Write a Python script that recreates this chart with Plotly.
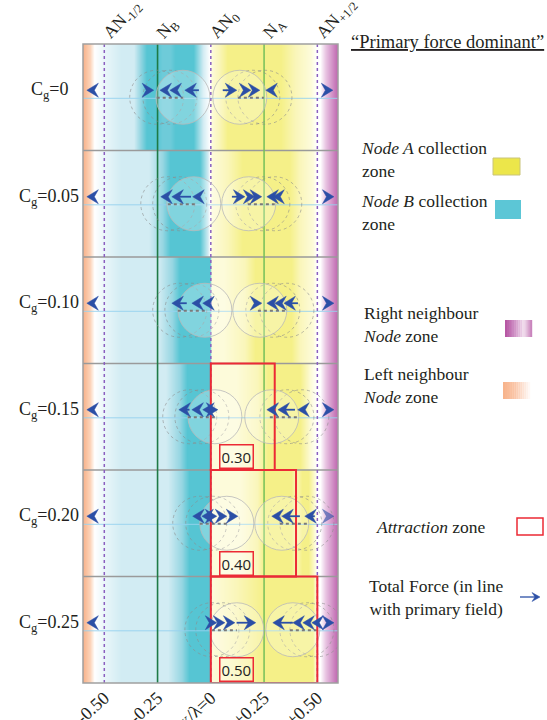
import numpy as np
import plotly.graph_objects as go

# ---------------- data ----------------
CG_VALUES = ["0", "0.05", "0.10", "0.15", "0.20", "0.25"]
NODE_LABELS = ["AN<sub>-1/2</sub>", "N<sub>B</sub>", "AN<sub>0</sub>", "N<sub>A</sub>", "AN<sub>+1/2</sub>"]
NODE_X = [-0.5, -0.25, 0.0, 0.25, 0.5]
TICK_VALS = [-0.5, -0.25, 0.0, 0.25, 0.5]
TICK_TEXT = ["-0.50", "-0.25", "x/λ=0", "+0.25", "+0.50"]

ATTRACTION_ROWS = [3, 4, 5]
ATTRACTION_WIDTH = [0.30, 0.40, 0.50]

# arrows per row: head position, direction (+1 right, -1 left), shaft length
ARROW_HEAD = [
    [-0.582, -0.268, -0.239, -0.192, -0.122, 0.122, 0.188, 0.230, 0.258, 0.573],
    [-0.582, -0.235, -0.183, -0.085, 0.160, 0.207, 0.239, 0.263, 0.291, 0.578],
    [-0.582, -0.183, -0.089, -0.038, 0.239, 0.263, 0.300, 0.343, 0.578],
    [-0.582, -0.150, -0.089, -0.038, 0.033, 0.263, 0.315, 0.408, 0.578],
    [-0.582, -0.085, -0.042, 0.028, 0.075, 0.127, 0.286, 0.333, 0.441, 0.578],
    [-0.582, 0.028, 0.066, 0.113, 0.211, 0.291, 0.385, 0.432, 0.474, 0.578],
]
ARROW_DIR = [
    [-1, 1, -1, -1, -1, 1, 1, 1, -1, 1],
    [-1, -1, -1, -1, 1, 1, 1, -1, -1, 1],
    [-1, -1, -1, -1, 1, -1, -1, -1, 1],
    [-1, -1, -1, -1, 1, -1, -1, -1, 1],
    [-1, -1, -1, 1, 1, 1, -1, -1, -1, 1],
    [-1, 1, 1, 1, 1, -1, -1, -1, -1, 1],
]
ARROW_SHAFT = [
    [0, 0, 0, 0, 0.066, 0.066, 0, 0, 0, 0],
    [0, 0, 0.09, 0, 0.061, 0, 0, 0, 0, 0],
    [0, 0.07, 0, 0, 0, 0, 0, 0.066, 0],
    [0, 0.05, 0, 0, 0, 0, 0.08, 0, 0],
    [0, 0, 0, 0, 0, 0.04, 0, 0.085, 0.047, 0],
    [0, 0, 0, 0, 0.09, 0.094, 0, 0, 0, 0],
]

# particle circles per row (centres)
CIRCLE_LEFT_DASHED = [[-0.254, -0.192], [-0.202, -0.146], [-0.146, -0.089],
                      [-0.099, -0.042], [-0.052, 0.009], [0.005, 0.056]]
CIRCLE_LEFT_SOLID = [-0.131, -0.080, -0.028, 0.019, 0.075, 0.122]
CIRCLE_RIGHT_SOLID = [0.136, 0.178, 0.230, 0.286, 0.333, 0.385]
CIRCLE_RIGHT_DASHED = [[0.197, 0.254], [0.244, 0.300], [0.291, 0.357],
                       [0.357, 0.427], [0.394, 0.451], [0.451, 0.498]]
# dotted displacement segments
SEG_LEFT = [(-0.254, -0.131), (-0.202, -0.075), (-0.155, -0.028),
            (-0.108, 0.019), (-0.052, 0.075), (0.005, 0.122)]
SEG_RIGHT = [(0.127, 0.249), (0.174, 0.300), (0.221, 0.357),
             (0.277, 0.404), (0.324, 0.451), (0.371, 0.498)]

# ---------------- styles ----------------
W = (255, 255, 255)
OR, OR2 = (247, 176, 136), (252, 212, 186)
PU, PU2 = (188, 96, 172), (232, 196, 226)
C0, C1, C2, C3 = (236, 247, 250), (210, 236, 243), (150, 214, 226), (86, 197, 211)
Y0, Y1, Y2 = (253, 251, 218), (250, 246, 186), (245, 240, 136)

def stops_for(row):
    left = [(-0.60, OR), (-0.565, OR2), (-0.545, W), (-0.505, C0), (-0.42, C1)]
    right = [(0.50, W), (0.515, W), (0.54, PU2), (0.60, PU)]
    if row == 0:
        mid = [(-0.36, C1), (-0.33, C2), (-0.30, C3), (-0.255, C3), (-0.225, (110, 203, 217)),
               (-0.19, (110, 203, 217)), (-0.165, C3), (-0.08, C3), (-0.035, C1), (-0.003, W),
               (0.005, Y0), (0.04, Y1), (0.08, Y2), (0.33, Y2), (0.40, Y1), (0.47, Y0)]
    elif row == 1:
        mid = [(-0.29, C1), (-0.225, C2), (-0.19, C3), (-0.05, C3), (-0.012, C1), (-0.003, W),
               (0.005, Y0), (0.08, Y1), (0.15, Y2), (0.37, Y2), (0.42, Y1), (0.48, Y0)]
    else:
        cfrom = [None, None, -0.145, -0.11, -0.10, -0.10][row]
        if row == 4:
            yel = [(0.005, Y0), (0.14, Y0), (0.22, Y1), (0.25, Y2), (0.38, Y2),
                   (0.40, Y1), (0.43, Y2), (0.46, Y2), (0.49, Y0)]
        elif row == 5:
            yel = [(0.005, Y0), (0.12, Y1), (0.25, Y2), (0.48, Y2), (0.495, Y0)]
        elif row == 3:
            yel = [(0.005, Y0), (0.12, Y0), (0.22, Y1), (0.27, Y2), (0.42, Y2), (0.47, Y0)]
        else:
            yel = [(0.005, Y0), (0.06, Y0), (0.16, Y1), (0.21, Y2), (0.38, Y2),
                   (0.42, Y1), (0.48, Y0)]
        mid = [(cfrom - 0.10, C1), (cfrom - 0.035, C2), (cfrom, C3), (-0.003, C3)] + yel
    return left + mid + right

X_LO, X_HI = -0.6, 0.597
NCOL = 255
DX = (X_HI - X_LO) / NCOL
xs = X_LO + DX * (np.arange(NCOL) + 0.5)
img = np.zeros((6, NCOL, 3), dtype=np.uint8)
for r in range(6):
    st = stops_for(r)
    pos = [s[0] for s in st]
    for c in range(3):
        img[r, :, c] = np.interp(xs, pos, [s[1][c] for s in st]).round().astype(np.uint8)

ARROW_COLOR = "#2b4fa6"
SERIF = "Liberation Serif"
TXT = "#231f20"
UX = 1 / 213.0    # data x units per pixel
UY = 1 / 106.5    # data y units per pixel

fig = go.Figure()
fig.add_trace(go.Image(z=img, x0=X_LO + DX / 2, dx=DX, y0=0.5, dy=1,
                       colormodel="rgb", hoverinfo="skip"))
# carrier for the top node-label axis
fig.add_trace(go.Scatter(x=NODE_X, y=[3.0] * len(NODE_X), xaxis="x2", yaxis="y",
                         mode="markers", marker=dict(opacity=0), hoverinfo="skip",
                         showlegend=False))

shapes = []
annotations = []

def PX(px):
    return (px - 83) / 255.0

def PY(py):
    return (683 - py) / 639.0

# row centre lines and separators
for i in range(6):
    shapes.append(dict(type="line", xref="x", yref="y", x0=X_LO, x1=X_HI, y0=i + 0.51, y1=i + 0.51,
                       line=dict(color="rgba(150,210,238,0.9)", width=1)))
for i in range(1, 6):
    shapes.append(dict(type="line", xref="x", yref="y", x0=X_LO, x1=X_HI, y0=i, y1=i,
                       line=dict(color="#9a9a9a", width=1.5)))

# vertical node lines
for xv in [-0.5, 0.0, 0.5]:
    shapes.append(dict(type="line", xref="x", yref="y", x0=xv, x1=xv, y0=0, y1=6,
                       line=dict(color="#8a5fc0", width=1.5, dash="dot")))
shapes.append(dict(type="line", xref="x", yref="y", x0=-0.25, x1=-0.25, y0=0, y1=6,
                   line=dict(color="#1e7a45", width=1.6)))
shapes.append(dict(type="line", xref="x", yref="y", x0=0.25, x1=0.25, y0=0, y1=6,
                   line=dict(color="#74bf5a", width=1.5)))

# circles
RX, RY = 27 * UX, 27 * UY
for i in range(6):
    cy = i + 0.5
    for cx in CIRCLE_LEFT_DASHED[i] + CIRCLE_RIGHT_DASHED[i]:
        shapes.append(dict(type="circle", xref="x", yref="y", x0=cx - RX, x1=cx + RX,
                           y0=cy - RY, y1=cy + RY,
                           line=dict(color="rgba(140,140,140,0.6)", width=1, dash="dot")))
    for cx in [CIRCLE_LEFT_SOLID[i], CIRCLE_RIGHT_SOLID[i]]:
        shapes.append(dict(type="circle", xref="x", yref="y", x0=cx - RX, x1=cx + RX,
                           y0=cy - RY, y1=cy + RY, fillcolor="rgba(255,255,255,0.26)",
                           line=dict(color="rgba(185,185,185,0.8)", width=1)))
    for seg in [SEG_LEFT[i], SEG_RIGHT[i]]:
        shapes.append(dict(type="line", xref="x", yref="y", x0=seg[0], x1=seg[1],
                           y0=cy + 0.005, y1=cy + 0.005,
                           line=dict(color="#7a7a7a", width=2, dash="dot")))

# attraction zones
for r, w in zip(ATTRACTION_ROWS, ATTRACTION_WIDTH):
    shapes.append(dict(type="rect", xref="x", yref="y", x0=0, x1=w, y0=r, y1=r + 1,
                       line=dict(color="#ec2a35", width=2)))
    annotations.append(dict(x=0.122, y=r + 0.875, xref="x", yref="y", text=f"{w:.2f}",
                            showarrow=False, font=dict(family="Open Sans", size=15, color="#222"),
                            bordercolor="#ec2a35", borderwidth=1.5, borderpad=1,
                            bgcolor="rgba(255,255,255,0.25)"))

# plot border
shapes.append(dict(type="rect", xref="paper", yref="paper", x0=0, x1=1, y0=0, y1=1,
                   line=dict(color="#a0a0a0", width=1.5)))

# arrows (barbed heads + optional shafts)
def arrow_path(hx, hy, d, L, H, notch, ux, uy):
    bx = hx - d * L * ux
    nx = hx - d * (L - notch) * ux
    return (f"M{hx},{hy} L{bx},{hy - H * uy} L{nx},{hy} L{bx},{hy + H * uy} Z")

for i in range(6):
    ay = i + 0.434
    for k, (hx, d, s) in enumerate(zip(ARROW_HEAD[i], ARROW_DIR[i], ARROW_SHAFT[i])):
        col = ARROW_COLOR
        if i == 4 and k == len(ARROW_HEAD[i]) - 1:
            col = "rgba(43,79,166,0.6)"
        if s > 0:
            shapes.append(dict(type="line", xref="x", yref="y", x0=hx - d * s, x1=hx - d * 6 * UX,
                               y0=ay, y1=ay, line=dict(color=col, width=1.8)))
        shapes.append(dict(type="path", xref="x", yref="y",
                           path=arrow_path(hx, ay, d, 11.5, 7, 4, UX, UY),
                           fillcolor=col, line=dict(color=col, width=0.5)))

# row labels
for i, cg in enumerate(CG_VALUES):
    annotations.append(dict(x=PX(49), y=i + 0.44, xref="paper", yref="y",
                            text=f"C<sub>g</sub>={cg}", showarrow=False,
                            xanchor="center", yanchor="middle",
                            font=dict(family=SERIF, size=18, color=TXT)))

# legend / key
LEG_FONT = dict(family=SERIF, size=17.5, color=TXT)
annotations.append(dict(x=PX(349), y=PY(42), xref="paper", yref="paper",
                        text="<u>“Primary force dominant”</u>", showarrow=False,
                        xanchor="left", yanchor="middle",
                        font=dict(family=SERIF, size=18.5, color=TXT)))
legend_items = [
    ("<i>Node A</i> collection<br>zone", 359, 160),
    ("<i>Node B</i> collection<br>zone", 359, 212),
    ("Right neighbour<br><i>Node</i> zone", 361, 324),
    ("Left neighbour<br><i>Node</i> zone", 361, 386),
]
for txt, lx, ly in legend_items:
    annotations.append(dict(x=PX(lx), y=PY(ly), xref="paper", yref="paper", text=txt,
                            showarrow=False, xanchor="left", yanchor="middle", align="left",
                            font=LEG_FONT))
annotations.append(dict(x=PX(374), y=PY(527), xref="paper", yref="paper",
                        text="<i>Attraction</i> zone", showarrow=False,
                        xanchor="left", yanchor="middle", font=LEG_FONT))
annotations.append(dict(x=PX(436), y=PY(597), xref="paper", yref="paper",
                        text="Total Force (in line<br>with primary field)", showarrow=False,
                        xanchor="center", yanchor="middle", align="center", font=LEG_FONT))

# legend arrow (paper coords)
PUX, PUY = 1 / 255.0, 1 / 639.0
shapes.append(dict(type="line", xref="paper", yref="paper", x0=PX(520), x1=PX(536),
                   y0=PY(597), y1=PY(597), line=dict(color=ARROW_COLOR, width=1.3)))
shapes.append(dict(type="path", xref="paper", yref="paper",
                   path=arrow_path(PX(540), PY(597), 1, 8, 4.5, 3, PUX, PUY),
                   fillcolor=ARROW_COLOR, line=dict(color=ARROW_COLOR, width=0.5)))

# legend swatches
shapes.append(dict(type="rect", xref="paper", yref="paper", x0=PX(493), x1=PX(520),
                   y0=PY(175), y1=PY(158), fillcolor="#ece64a",
                   line=dict(color="#c9c47a", width=1)))
shapes.append(dict(type="rect", xref="paper", yref="paper", x0=PX(495), x1=PX(521),
                   y0=PY(219), y1=PY(200), fillcolor="#5cc6d6",
                   line=dict(color="#5cc6d6", width=0)))

def grad_swatch(x0, x1, y0, y1, stops, n=14):
    pos = [s[0] for s in stops]
    for k in range(n):
        t = (k + 0.5) / n
        col = [int(round(np.interp(t, pos, [s[1][c] for s in stops]))) for c in range(3)]
        a = x0 + (x1 - x0) * k / n
        b = x0 + (x1 - x0) * (k + 1) / n + 0.2
        shapes.append(dict(type="rect", xref="paper", yref="paper", x0=PX(a), x1=PX(b),
                           y0=PY(y1), y1=PY(y0), fillcolor=f"rgb({col[0]},{col[1]},{col[2]})",
                           line=dict(width=0), layer="above"))

grad_swatch(505, 532, 320, 337, [(0, (180, 82, 160)), (0.35, (205, 140, 195)),
                                  (0.7, (242, 222, 238)), (1, (196, 120, 182))])
grad_swatch(503, 530, 382, 399, [(0, (247, 178, 138)), (0.45, (250, 198, 168)),
                                  (1, (255, 252, 250))])
shapes.append(dict(type="rect", xref="paper", yref="paper", x0=PX(517), x1=PX(543),
                   y0=PY(535), y1=PY(518), line=dict(color="#ec2a35", width=1.5)))

fig.update_layout(
    width=547, height=720,
    margin=dict(l=83, r=209, t=44, b=37, autoexpand=False),
    paper_bgcolor="white", plot_bgcolor="white",
    shapes=shapes, annotations=annotations,
    showlegend=False,
    xaxis=dict(range=[X_LO, X_HI], showgrid=False, zeroline=False, showline=False,
               tickvals=TICK_VALS, ticktext=TICK_TEXT, tickangle=-42, ticks="",
               automargin=False,
               tickfont=dict(family=SERIF, size=18, color=TXT), fixedrange=True),
    xaxis2=dict(range=[X_LO, X_HI], overlaying="x", side="top", anchor="y",
                showgrid=False, zeroline=False, showline=False,
                tickvals=NODE_X, ticktext=NODE_LABELS, tickangle=-48, ticks="",
                automargin=False, ticklabelstandoff=-3,
                tickfont=dict(family=SERIF, size=17.5, color=TXT), fixedrange=True),
    yaxis=dict(range=[6, 0], visible=False, showgrid=False, zeroline=False,
               scaleanchor=False, fixedrange=True, automargin=False),
)

fig.write_html("out.html")
